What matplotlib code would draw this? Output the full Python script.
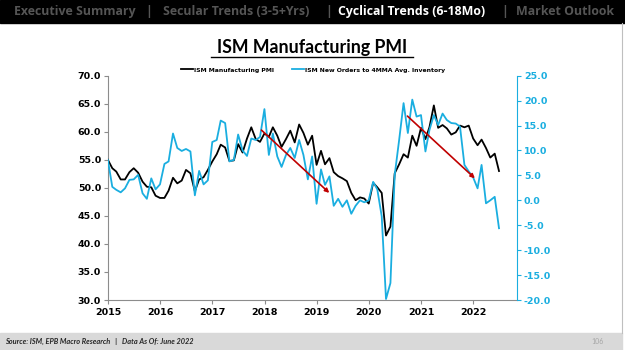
import matplotlib
matplotlib.use("Agg")
import matplotlib.pyplot as plt
import matplotlib.dates as mdates
from matplotlib.patches import Rectangle
from matplotlib.lines import Line2D
import pandas as pd

# monthly, Dec 2014 .. Jun 2022 (plotted at month end)
months = pd.date_range("2014-12-31", "2022-06-30", freq="ME")

pmi = [
    55.0,
    53.5, 52.9, 51.5, 51.5, 52.8, 53.5, 52.7, 51.1, 50.2, 50.1, 48.6, 48.2,
    48.2, 49.5, 51.8, 50.8, 51.3, 53.2, 52.6, 49.4, 51.5, 51.9, 53.2, 54.7,
    56.0, 57.7, 57.2, 54.8, 54.9, 57.8, 56.3, 58.8, 60.8, 58.7, 58.2, 59.7,
    59.1, 60.8, 59.3, 57.3, 58.7, 60.2, 58.1, 61.3, 59.8, 57.7, 59.3, 54.1,
    56.6, 54.2, 55.3, 52.8, 52.1, 51.7, 51.2, 49.1, 47.8, 48.3, 48.1, 47.2,
    50.9, 50.1, 49.1, 41.5, 43.1, 52.6, 54.2, 56.0, 55.4, 59.3, 57.5, 60.7,
    58.7, 60.8, 64.7, 60.7, 61.2, 60.6, 59.5, 59.9, 61.1, 60.8, 61.1, 58.8,
    57.6, 58.6, 57.1, 55.4, 56.1, 53.0,
]

orders_to_inv = [
    8.1,
    2.7, 2.1, 1.6, 2.4, 4.1, 4.2, 5.1, 1.4, 0.3, 4.4, 2.2, 3.2,
    7.3, 7.8, 13.4, 10.5, 9.9, 10.3, 9.8, 1.0, 5.9, 3.2, 4.0, 11.7,
    12.1, 16.0, 15.5, 7.8, 8.1, 13.2, 10.0, 8.9, 12.4, 12.1, 12.7, 18.3,
    9.1, 13.4, 8.8, 6.7, 9.1, 10.5, 8.5, 12.1, 9.1, 4.2, 8.8, -0.7,
    6.2, 3.1, 4.8, -1.1, 0.3, -1.3, 0.0, -2.7, -1.1, 0.0, -0.4, 0.0,
    3.7, 2.2, -3.2, -19.8, -16.6, 5.1, 12.1, 19.5, 13.5, 20.2, 16.8, 17.1,
    9.8, 14.1, 17.1, 15.1, 17.4, 16.1, 15.5, 15.4, 14.8, 7.1, 5.8, 4.6,
    2.4, 7.1, -0.6, 0.0, 0.7, -5.6,
]

# red trend arrows (date, left-axis value)
arrows = [
    (("2017-12-10", 60.3), ("2019-03-30", 49.1)),
    (("2020-09-27", 62.8), ("2022-01-12", 51.7)),
]

years = list(range(2015, 2023))
left_ticks = [30, 35, 40, 45, 50, 55, 60, 65, 70]
right_ticks = [-20, -15, -10, -5, 0, 5, 10, 15, 20, 25]

BLACK = "#000000"
CYAN = "#1AAEE0"
RED = "#C00000"
GRAY = "#8C8C8C"

fig = plt.figure(figsize=(6.25, 3.5), dpi=100)
W, H = 625, 350

# header bar
fig.patches.append(Rectangle((0, 1 - 23 / H), 1, 23 / H, transform=fig.transFigure,
                             color="black", zorder=0))
tabs = [
    ("Executive Summary", 14, "#555555"),
    ("|", 145, "#555555"),
    ("Secular Trends (3-5+Yrs)", 163, "#555555"),
    ("|", 325, "#555555"),
    ("Cyclical Trends (6-18Mo)", 338, "white"),
    ("|", 501, "#555555"),
    ("Market Outlook", 516, "#555555"),
]
for label, xp, col in tabs:
    fig.text(xp / W, 1 - 11.5 / H, label, color=col, fontsize=8.9, fontweight="bold",
             family="Open Sans", ha="left", va="center")

# footer bar
fig.patches.append(Rectangle((0, 0), 622 / W, 17 / H, transform=fig.transFigure,
                             color="#D9D9D9", zorder=0))
fig.text(5 / W, 8.5 / H, "Source: ISM, EPB Macro Research   |   Data As Of: June 2022",
         fontsize=5.3, fontweight="bold", style="italic", family="Lato",
         color="#262626", ha="left", va="center")
fig.text(597 / W, 8.5 / H, "106", fontsize=5, color="#A6A6A6", family="Lato",
         ha="center", va="center")
fig.add_artist(Line2D([622 / W, 622 / W], [17 / H, 1 - 23 / H], transform=fig.transFigure,
                      color="#BFBFBF", lw=0.8))

# title
fig.text(312 / W, 1 - 48 / H, "ISM Manufacturing PMI", fontsize=12.8, fontweight="bold",
         family="Lato", ha="center", va="center")
fig.add_artist(Line2D([211 / W, 413 / W], [1 - 57 / H, 1 - 57 / H], transform=fig.transFigure,
                      color="black", lw=1.0))

ax = fig.add_axes([108 / W, 1 - 300 / H, 409 / W, 224.3 / H])
ax2 = ax.twinx()

ax.plot(months, pmi, color=BLACK, lw=1.3, zorder=3, label="ISM Manufacturing PMI")
ax2.plot(months, orders_to_inv, color=CYAN, lw=1.3, label="ISM New Orders to 4MMA Avg. Inventory")

for (d0, v0), (d1, v1) in arrows:
    ax2.annotate("", xy=(mdates.datestr2num(d1), 1.125 * v1 - 53.75),
                 xytext=(mdates.datestr2num(d0), 1.125 * v0 - 53.75),
                 arrowprops=dict(arrowstyle="-|>", color=RED, lw=1.2, mutation_scale=6,
                                 shrinkA=0, shrinkB=0), zorder=5)

ax.set_xlim(pd.Timestamp("2015-01-01"), pd.Timestamp("2022-11-03"))
ax.set_ylim(30, 70)
ax2.set_ylim(-20, 25)

ax.set_xticks([pd.Timestamp(f"{y}-01-01") for y in years])
ax.set_xticklabels([str(y) for y in years])
ax.set_yticks(left_ticks)
ax.set_yticklabels([f"{v:.1f}" for v in left_ticks])
ax2.set_yticks(right_ticks)
ax2.set_yticklabels([f"{v:.1f}" for v in right_ticks])

for a in (ax, ax2):
    a.spines["top"].set_visible(False)
ax.spines["left"].set_color(GRAY)
ax.spines["bottom"].set_color(GRAY)
ax2.spines["left"].set_visible(False)
ax2.spines["bottom"].set_visible(False)
ax2.spines["right"].set_color(CYAN)
ax.spines["right"].set_visible(False)

ax.tick_params(axis="both", colors=GRAY, length=3, width=0.8, labelsize=6.8, pad=2)
ax.tick_params(axis="x", labelcolor="black", pad=3)
ax.tick_params(axis="y", labelcolor="black")
ax2.tick_params(axis="y", colors=CYAN, length=3, width=0.8, labelsize=6.8, pad=2)
for lab in ax.get_xticklabels() + ax.get_yticklabels() + ax2.get_yticklabels():
    lab.set_fontweight("bold")
    lab.set_family("DejaVu Sans")

handles = ax.get_lines()[:1] + ax2.get_lines()[:1]
leg = fig.legend(handles, [h.get_label() for h in handles], loc="center",
                 bbox_to_anchor=(313 / W, 1 - 70 / H), ncol=2, frameon=False,
                 handlelength=2.0, handletextpad=0.15, columnspacing=2.9,
                 prop={"weight": "bold", "family": "DejaVu Sans", "size": 4.4})

fig.savefig("out.png", dpi=100)
